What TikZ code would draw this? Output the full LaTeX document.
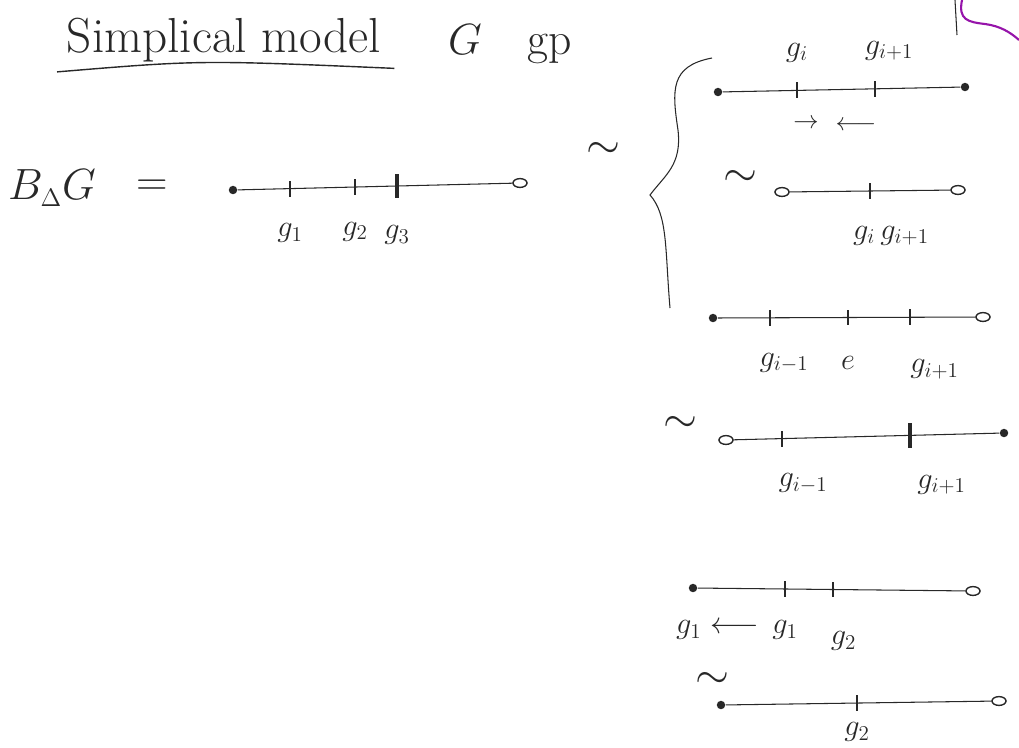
\documentclass[tikz,border=0pt]{standalone}
\usepackage{amsmath}
\usepackage{xcolor}
\definecolor{noteInk}{RGB}{40,40,40}
\definecolor{notePurple}{RGB}{150,20,170}
\usetikzlibrary{arrows.meta,positioning,shapes.geometric}

\begin{document}
\begin{tikzpicture}[x=0.02cm, y=-0.02cm, noteInk, semithick,
  dotend/.style={circle, fill, inner sep=1.7pt},
  openend/.style={ellipse, draw, thick, inner sep=0pt, minimum width=8pt, minimum height=5pt},
  tickmark/.style={fill, inner sep=0pt, minimum width=0.8pt, minimum height=9pt},
  bigtick/.style={tickmark, minimum width=2pt, minimum height=14pt},
  lab/.style={font=\LARGE, inner sep=1pt},
  twiddle/.style={font=\Huge, inner sep=0pt}
]
  \useasboundingbox (0,0) rectangle (1019,748);

  % title
  \node[font=\fontsize{28}{32}\selectfont] (title) at (224,40) {Simplical model};
  \coordinate[below left=2pt and 2pt of title.south west] (ul1);
  \coordinate[below right=0pt and 4pt of title.south east] (ul2);
  \draw[thick] (ul1) .. controls (200,60) .. (ul2);
  \node[font=\fontsize{26}{30}\selectfont] (grp) at (510,44) {$G$\quad gp};

  % B_Delta G
  \node[font=\fontsize{27}{32}\selectfont] (bg) at (52,188) {$B_{\scriptscriptstyle\Delta}G$};
  \node[font=\fontsize{28}{32}\selectfont, right=0.55cm of bg] (eq) {$=$};
  \node[dotend]  (a1) at (233,190) {};
  \node[openend] (b1) at (520,183) {};
  \draw (a1) -- (b1);
  \node[tickmark] (t1a) at (290,188.6) {};
  \node[tickmark] (t1b) at (355,187.0) {};
  \node[bigtick]  (t1c) at (397,186.0) {};
  \node[lab, below=14pt of t1a] (g1a) {$g_1$};
  \node[lab, below=14pt of t1b] (g1b) {$g_2$};
  \node[lab, below=14pt of t1c] (g1c) {$g_3$};

  \node[twiddle] (tw1) at (603,150) {$\sim$};

  % brace
  \draw (712,58) .. controls (670,66) and (672,90) .. (678,130)
        .. controls (682,165) and (665,175) .. (650,195)
        .. controls (668,215) and (665,250) .. (670,308);

  % first case
  \node[dotend] (a2) at (718,92) {};
  \node[dotend] (b2) at (965,87) {};
  \draw (a2) -- (b2);
  \node[tickmark] (t2a) at (797,90.4) {};
  \node[tickmark] (t2b) at (875,88.8) {};
  \node[lab, above=10pt of t2a] (g2a) {$g_i$};
  \node[lab, above=10pt of t2b, xshift=8pt] (g2b) {$g_{i+1}$};
  \node[font=\Large] (ar2a) at (806,124) {$\rightarrow$};
  \node[font=\Large] (ar2b) at (856,126) {$\longleftarrow$};

  \node[twiddle] (tw2) at (740,178) {$\sim$};
  \node[openend] (a3) at (782,192) {};
  \node[openend] (b3) at (958,190) {};
  \draw (a3) -- (b3);
  \node[tickmark] (t3a) at (870,191) {};
  \node[lab, below=14pt of t3a, xshift=12pt] (g3a) {$g_i\,g_{i+1}$};

  % second case
  \node[dotend]  (a4) at (713,318) {};
  \node[openend] (b4) at (983,317) {};
  \draw (a4) -- (b4);
  \node[tickmark] (t4a) at (770,317.8) {};
  \node[tickmark] (t4b) at (848,317.5) {};
  \node[tickmark] (t4c) at (910,317.3) {};
  \node[lab, below=14pt of t4a, xshift=8pt] (g4a) {$g_{i-1}$};
  \node[lab, below=16pt of t4b] (g4b) {$e$};
  \node[lab, below=18pt of t4c, xshift=14pt] (g4c) {$g_{i+1}$};

  \node[twiddle] (tw4) at (680,424) {$\sim$};
  \node[openend] (a5) at (726,440) {};
  \node[dotend]  (b5) at (1004,433) {};
  \draw (a5) -- (b5);
  \node[tickmark] (t5a) at (782,438.6) {};
  \node[bigtick]  (t5b) at (910,435.4) {};
  \node[lab, below=14pt of t5a, xshift=12pt] (g5a) {$g_{i-1}$};
  \node[lab, below=14pt of t5b, xshift=18pt] (g5b) {$g_{i+1}$};

  % third case
  \node[dotend]  (a6) at (693,588) {};
  \node[openend] (b6) at (973,591) {};
  \draw (a6) -- (b6);
  \node[tickmark] (t6a) at (785,589) {};
  \node[tickmark] (t6b) at (833,589.5) {};
  \node[lab, below=12pt of t6a] (g6a) {$g_1$};
  \node[lab, below=18pt of t6b, xshift=6pt] (g6b) {$g_2$};
  \node[lab, left=5pt of g6a] (g6c) {$g_1\longleftarrow$};

  \node[twiddle] (tw6) at (712,680) {$\sim$};
  \node[dotend]  (a7) at (721,705) {};
  \node[openend] (b7) at (999,701) {};
  \draw (a7) -- (b7);
  \node[tickmark] (t7a) at (857,703) {};
  \node[lab, below=5pt of t7a] (g7a) {$g_2$};

  % corner scribble
  \draw (955,0) -- (957,35);
  \draw[notePurple, very thick] (962,0) .. controls (958,20) and (968,22) .. (985,24)
        .. controls (1000,26) and (1010,32) .. (1019,40);
\end{tikzpicture}
\end{document}
